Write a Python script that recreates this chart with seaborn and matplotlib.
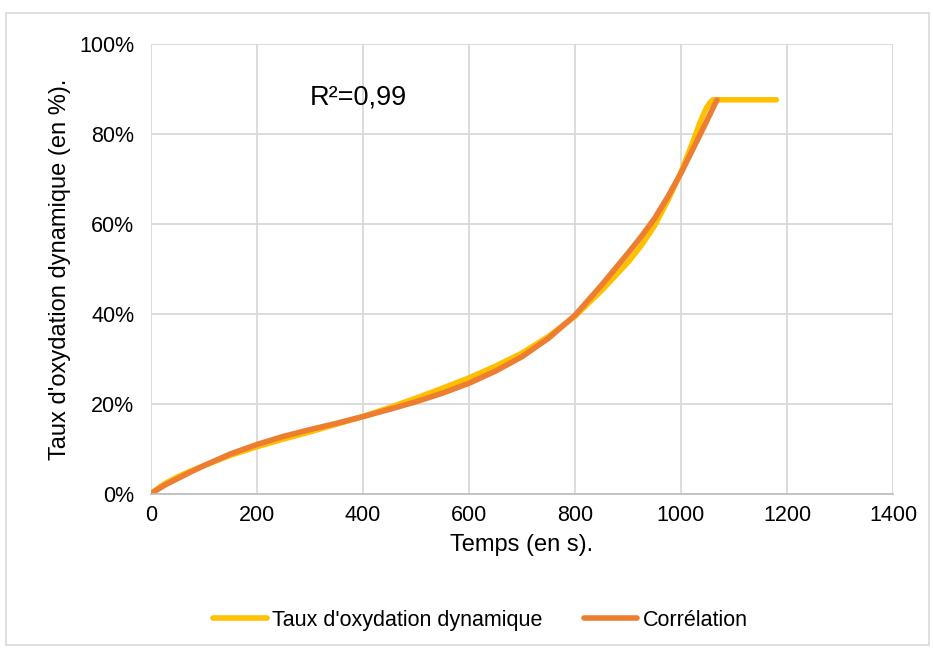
import numpy as np
import pandas as pd
import matplotlib
matplotlib.use('Agg')
import matplotlib.pyplot as plt
import seaborn as sns
from matplotlib.patches import Rectangle
from matplotlib.ticker import PercentFormatter

# Data

t_exp = [0, 10, 25, 50, 75, 100, 150, 200, 250, 300, 350, 400, 450, 500, 550,
         600, 650, 700, 750, 800, 850, 900, 925, 950, 975, 1000, 1020, 1036,
         1048, 1055, 1060, 1080, 1100, 1150, 1180]
taux = [0, 1.0, 2.2, 3.8, 5.1, 6.3, 8.6, 10.5, 12.2, 13.8, 15.5, 17.2, 19.2,
        21.3, 23.5, 25.8, 28.4, 31.3, 35.0, 39.5, 45.2, 51.5, 55.2, 59.6, 65.2,
        71.5, 77.5, 82.6, 85.8, 87.0, 87.6, 87.6, 87.6, 87.6, 87.6]

t_corr = [0, 10, 25, 50, 75, 100, 150, 200, 250, 300, 350, 400, 450, 500, 550,
          600, 650, 700, 750, 800, 850, 900, 925, 950, 975, 1000, 1035, 1068]
correlation = [0, 0.8, 1.9, 3.4, 4.9, 6.3, 8.9, 11.0, 12.8, 14.3, 15.7, 17.2,
               18.8, 20.5, 22.4, 24.6, 27.3, 30.5, 34.6, 39.7, 46.4, 53.5,
               57.2, 61.2, 66.0, 71.3, 79.6, 87.6]

x_ticks = [0, 200, 400, 600, 800, 1000, 1200, 1400]
y_ticks = [0, 20, 40, 60, 80, 100]

df_exp = pd.DataFrame({'t': t_exp, 'v': taux})
df_corr = pd.DataFrame({'t': t_corr, 'v': correlation})

# Style

sns.set_style('whitegrid')
plt.rcParams['font.family'] = ['Liberation Sans', 'DejaVu Sans']
plt.rcParams['text.color'] = '#000000'
plt.rcParams['axes.labelcolor'] = '#000000'

fig = plt.figure(figsize=(9.33, 6.48), dpi=100)
ax = fig.add_axes([0.1618, 0.2377, 0.7953, 0.6944])

sns.lineplot(data=df_exp, x='t', y='v', ax=ax, color='#FFC000',
             linewidth=4, label="Taux d'oxydation dynamique",
             solid_capstyle='round', solid_joinstyle='round')
sns.lineplot(data=df_corr, x='t', y='v', ax=ax, color='#ED7D31',
             linewidth=4, label='Corrélation',
             solid_capstyle='round', solid_joinstyle='round')

ax.set_xlim(0, 1400)
ax.set_ylim(0, 100)
ax.set_xticks(x_ticks)
ax.set_yticks(y_ticks)
ax.yaxis.set_major_formatter(PercentFormatter(decimals=0))
ax.tick_params(axis='both', length=0, labelsize=15.5, colors='#000000')
ax.tick_params(axis='x', pad=8)
ax.tick_params(axis='y', pad=12)

ax.grid(True, color='#D9D9D9', linewidth=1.3)
for side in ['top', 'right', 'left']:
    ax.spines[side].set_visible(False)
ax.spines['bottom'].set_color('#BFBFBF')
ax.spines['bottom'].set_linewidth(1.3)

ax.set_xlabel('Temps (en s).', fontsize=17, labelpad=6)
ax.set_ylabel("Taux d'oxydation dynamique (en %).", fontsize=17, labelpad=6)

ax.text(300, 88, 'R²=0,99', fontsize=19.5, va='center', ha='left')

# Legend under the chart

ax.get_legend().remove()
handles, labels = ax.get_legend_handles_labels()
fig.legend(handles, labels, loc='center', ncol=2,
           bbox_to_anchor=(0.515, 0.043), frameon=False, fontsize=15.5,
           handlelength=2.5, handletextpad=0.25, columnspacing=1.9)

# Chart border

fig.patches.append(Rectangle((0.006, 0.004), 0.99, 0.976, transform=fig.transFigure,
                             fill=False, edgecolor='#D9D9D9', linewidth=1.2))

plt.savefig('out.png', dpi=100)
